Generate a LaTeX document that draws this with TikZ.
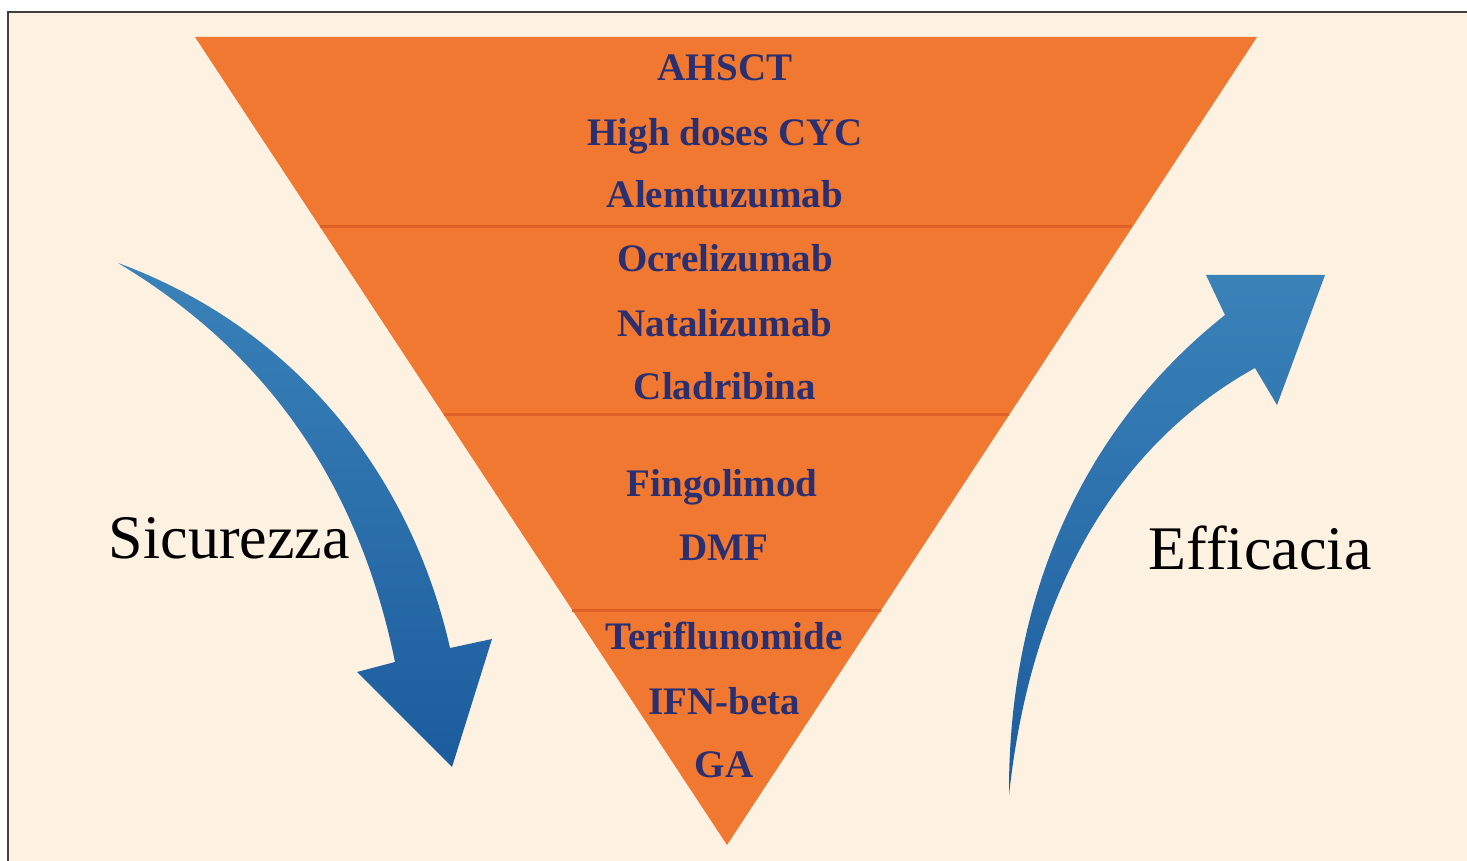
\documentclass[tikz,border=0pt]{standalone}
\usepackage{fontspec}
\setmainfont{Liberation Serif}
\usepackage{tikz}
\usetikzlibrary{calc}

\definecolor{cream}{HTML}{FDF1E1}
\definecolor{pyramid}{HTML}{F07830}
\definecolor{divider}{HTML}{DE6128}
\definecolor{navy}{HTML}{2A2F72}
\definecolor{arrowtop}{HTML}{3A82B8}
\definecolor{arrowbot}{HTML}{1C5C9E}

\tikzset{
	drug/.style={anchor=base, inner sep=0.75pt, text=navy, font=\fontsize{19.5}{22}\selectfont\bfseries},
	side/.style={anchor=base west, inner sep=0.75pt, text=black, font=\fontsize{31}{36}\selectfont},
	level/.style={draw=divider, line width=1.5pt}
}

\begin{document}
\begin{tikzpicture}[x=0.5pt,y=0.5pt,yscale=-1,xscale=1]
	\useasboundingbox (0,0) rectangle (1467,861);
	
	%Background with frame
	\fill [white] (0,0) rectangle (1467,861);
	\fill [cream] (8,12) rectangle (1467,861);
	\draw [black!75, line width=0.8pt] (8,861) -- (8,12) -- (1467,12);
	
	%Shape: Inverted triangle
	\coordinate (tl) at (195,37);
	\coordinate (tr) at (1257,37);
	\coordinate (ap) at (727,845);
	\fill [pyramid] (tl) -- (tr) -- (ap) -- cycle;
	%Straight Lines: levels
	\draw [level] ($(tl)!0.2351!(ap)$) -- ($(tr)!0.2351!(ap)$);
	\draw [level] ($(tl)!0.4678!(ap)$) -- ($(tr)!0.4678!(ap)$);
	\draw [level] ($(tl)!0.7092!(ap)$) -- ($(tr)!0.7092!(ap)$);
	
	%Shape: Curved arrow down (left)
	\shade [top color=arrowtop, bottom color=arrowbot] (118,263) .. controls (300,330) and (412,480) .. (450,648) -- (492,639) -- (452,767) -- (357,672) -- (395,662) .. controls (362,500) and (280,360) .. (118,263) -- cycle;
	%Shape: Curved arrow up (right)
	\shade [top color=arrowtop, bottom color=arrowbot] (1009,795) .. controls (1008,600) and (1080,430) .. (1225,315) -- (1206,275) -- (1325,275) -- (1277,405) -- (1255,368) .. controls (1125,440) and (1032,580) .. (1009,795) -- cycle;
	
	% Text Node
	\draw (725,81) node [drug] (ahsct) {AHSCT};
	% Text Node
	\draw (725,146) node [drug] (cyc) {High doses CYC};
	% Text Node
	\draw (725,208) node [drug] (alem) {Alemtuzumab};
	% Text Node
	\draw (725,271) node [drug] (ocre) {Ocrelizumab};
	% Text Node
	\draw (725,336) node [drug] (nata) {Natalizumab};
	% Text Node
	\draw (725,399) node [drug] (cladr) {Cladribina};
	% Text Node
	\draw (722,496) node [drug] (fingo) {Fingolimod};
	% Text Node
	\draw (724,560) node [drug] (dmf) {DMF};
	% Text Node
	\draw (724,649) node [drug] (teri) {Teriflunomide};
	% Text Node
	\draw (724,714) node [drug] (ifn) {IFN-beta};
	% Text Node
	\draw (724,777) node [drug] (ga) {GA};
	
	% Text Node
	\draw (107,558) node [side] (sicur) {Sicurezza};
	% Text Node
	\draw (1147,569) node [side] (effic) {Efficacia};
	
\end{tikzpicture}
\end{document}
